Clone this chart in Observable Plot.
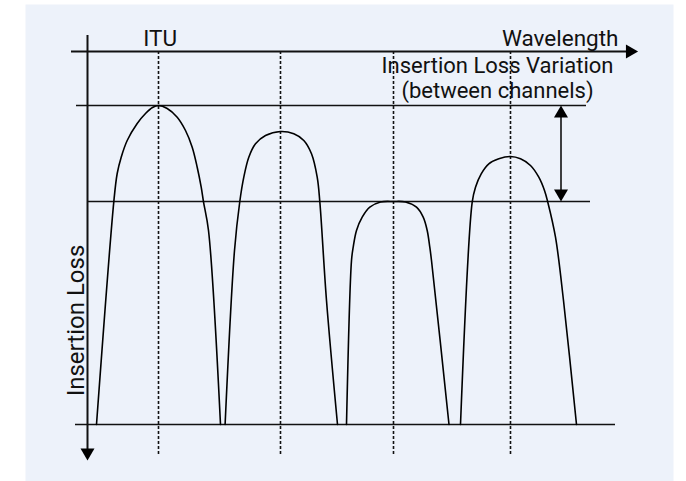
<!DOCTYPE html>
<html><head><meta charset="utf-8">
<script src="https://cdn.jsdelivr.net/npm/d3@7"></script>
<script src="https://cdn.jsdelivr.net/npm/@observablehq/plot@0.6"></script>
<style>body{margin:0;background:#fff;} #chart svg{display:block;}</style>
</head><body><div id="chart"></div>
<script>
// Relative units: x = wavelength offset from the insertion-loss axis, y = insertion loss (grows downward)
const ituChannels = [71, 193, 306, 423];
const channelNames = ["ch1", "ch2", "ch3", "ch4"];
const ch1 = [[9,373],[26.3,150.3],[29.7,122],[33.7,105.7],[39.7,89],[49.7,72],[58,62],[65,56],[71,54],[79.7,57],[89.7,65.7],[98,79],[104.7,95.7],[109.7,115.7],[113.7,135.7],[116,150.3],[121,179],[133,373]];
const ch2 = [[137.6,373],[147,199],[152.3,150],[156.3,125.7],[161.3,105.7],[168,92.3],[178,84],[193,80],[206.3,82.3],[216.3,89],[224,102.3],[229.7,125.7],[232.3,150],[239,249],[250,373]];
const ch3 = [[259,373],[264,209],[265.7,195.7],[269,179],[274.7,165.7],[282.3,155.7],[293,150.5],[306,150],[318,150.5],[329,155.7],[335.7,165.7],[339.7,179],[342.3,195.7],[344,209],[361.5,373]];
const ch4 = [[373,373],[384.7,150.7],[388,135.7],[393.7,122.3],[401.3,112.3],[411.3,107.3],[423,105],[433,107.3],[443,114],[451.3,125.7],[457,139],[460.3,150.7],[468,185.7],[476,249],[489,373]];
const levelNames = ["best", "worst", "floor"];
const levelLoss = [54, 150, 373];
const levelFrom = [-11, 0, -12];
const levelTo = [499, 503, 528];
const axisLabels = ["ITU", "Wavelength", "Insertion Loss Variation\n(between channels)", "Insertion Loss"];

const curves = [ch1, ch2, ch3, ch4].flatMap((pts, i) => pts.map(([x, y]) => ({ch: channelNames[i], x, y})));
const levels = levelNames.map((n, i) => ({n, y: levelLoss[i], x1: levelFrom[i], x2: levelTo[i]}));
const font = "Roboto, 'Liberation Sans', Arial, sans-serif";

const chart = Plot.plot({
  width: 686, height: 481,
  marginLeft: 25, marginTop: 4, marginRight: 13, marginBottom: 0,
  x: {domain: [-62, 586], range: [25, 673], axis: null},
  y: {domain: [-47, 430], range: [4, 481], axis: null},
  style: {fontFamily: font, background: "#fff", overflow: "visible"},
  marks: [
    Plot.frame({fill: "#edf2fa", stroke: "none"}),
    // ITU dashed lines
    Plot.ruleX(ituChannels, {x: d => d, y1: 0, y2: 405, stroke: "#111", strokeWidth: 1.6, strokeDasharray: "3,2"}),
    // reference levels
    Plot.ruleY(levels, {y: "y", x1: "x1", x2: "x2", stroke: "#111", strokeWidth: 1.5}),
    // axes
    Plot.ruleY([0], {x1: -16, x2: 540, stroke: "#111", strokeWidth: 2}),
    Plot.ruleX([0], {y1: -16, y2: 402, stroke: "#111", strokeWidth: 2}),
    Plot.dot([{x: 550.5, y: 0}], {x: "x", y: "y", symbol: "triangle", r: 5.2, rotate: 90, dx: -8, fill: "#000", stroke: "none"}),
    Plot.dot([{x: 0, y: 409}], {x: "x", y: "y", symbol: "triangle", r: 5.2, rotate: 180, dy: -8, fill: "#000", stroke: "none"}),
    // variation double arrow
    Plot.ruleX([473.5], {x: d => d, y1: 60, y2: 144, stroke: "#111", strokeWidth: 1.6}),
    Plot.dot([{x: 473.5, y: levelLoss[0]}], {x: "x", y: "y", symbol: "triangle", r: 5.2, rotate: 0, dy: 8, fill: "#000", stroke: "none"}),
    Plot.dot([{x: 473.5, y: levelLoss[1]}], {x: "x", y: "y", symbol: "triangle", r: 5.2, rotate: 180, dy: -8, fill: "#000", stroke: "none"}),
    // channel curves
    Plot.line(curves, {x: "x", y: "y", z: "ch", curve: "catmull-rom", stroke: "#000", strokeWidth: 1.6}),
    // labels
    Plot.text([axisLabels[0]], {x: 72.7, y: -6, text: d => d, textAnchor: "middle", lineAnchor: "bottom", fontSize: 22.5, fill: "#111"}),
    Plot.text([axisLabels[1]], {x: 531, y: -6, text: d => d, textAnchor: "end", lineAnchor: "bottom", fontSize: 22.5, fill: "#111"}),
    Plot.text([axisLabels[2]], {x: 410, y: 46.5, text: d => d, textAnchor: "middle", lineAnchor: "bottom", lineHeight: 1.15, fontSize: 22, fill: "#111"}),
    Plot.text([axisLabels[3]], {x: -3.5, y: 269, text: d => d, textAnchor: "middle", lineAnchor: "bottom", rotate: -90, fontSize: 24, fill: "#111"})
  ]
});
document.getElementById("chart").appendChild(chart);
</script>
</body></html>
